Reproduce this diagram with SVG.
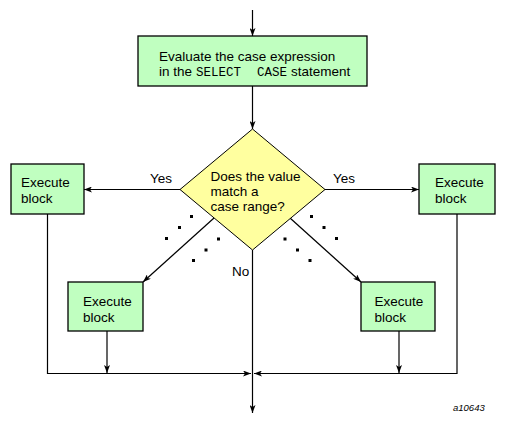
<svg xmlns="http://www.w3.org/2000/svg" width="505" height="424" viewBox="0 0 505 424">
<defs>
<marker id="arr" viewBox="0 0 8 6" refX="8" refY="3" markerWidth="8" markerHeight="6" markerUnits="userSpaceOnUse" orient="auto">
<path d="M0,0 L8,3 L0,6 L2,3 z" fill="#000"/>
</marker>
<style>
.box{fill:#c0ffc0;stroke:#000;stroke-width:1.3}
.dia{fill:#ffff9f;stroke:#000;stroke-width:1}
.t{font-family:"Liberation Sans",Arial,sans-serif;font-size:13.5px;fill:#000}
.m{font-family:"Liberation Mono","Courier New",monospace;font-size:12.5px;fill:#000}
.ln{fill:none;stroke:#000;stroke-width:1.2}
.ar{marker-end:url(#arr)}
.dot{fill:#000}
</style>
</defs>
<rect width="505" height="424" fill="#fff"/>
<g id="connectors">
<path class="ln ar" d="M252.5,10 V36"/>
<path class="ln ar" d="M252.5,86 V129"/>
<path class="ln ar" d="M180,189.5 H84"/>
<path class="ln ar" d="M325,189.5 H419"/>
<path class="ln ar" d="M214,218 L143,282"/>
<path class="ln ar" d="M290,218 L361,282"/>
<path class="ln ar" d="M252.5,250 V413"/>
<path class="ln ar" d="M47.5,214 V373.5 H251"/>
<path class="ln ar" d="M457,214 V373.5 H254"/>
<path class="ln ar" d="M107,331 V373"/>
<path class="ln ar" d="M399,331 V373"/>
<g id="dots">
<rect class="dot" x="190" y="215" width="3" height="3"/>
<rect class="dot" x="178" y="226" width="3" height="3"/>
<rect class="dot" x="165" y="237" width="3" height="3"/>
<rect class="dot" x="217" y="237.5" width="3" height="3"/>
<rect class="dot" x="204.5" y="248.5" width="3" height="3"/>
<rect class="dot" x="192" y="259" width="3" height="3"/>
<rect class="dot" x="310" y="215" width="3" height="3"/>
<rect class="dot" x="322.5" y="226" width="3" height="3"/>
<rect class="dot" x="335" y="237" width="3" height="3"/>
<rect class="dot" x="283.5" y="237.5" width="3" height="3"/>
<rect class="dot" x="296" y="248.5" width="3" height="3"/>
<rect class="dot" x="308.5" y="259" width="3" height="3"/>
</g>
<text class="t" x="150" y="183">Yes</text>
<text class="t" x="333" y="183">Yes</text>
<text class="t" x="232" y="275.5">No</text>
</g>
<g id="evaluate">
<rect class="box" x="138" y="36" width="229" height="50"/>
<text class="t" x="159" y="61">Evaluate the case expression</text>
<text class="t" x="159" y="76">in the</text>
<text class="m" x="196" y="76">SELECT</text>
<text class="m" x="257" y="76">CASE</text>
<text class="t" x="291" y="76">statement</text>
</g>
<g id="decision">
<polygon class="dia" points="252.5,129 325,189.5 252.5,250 180,189.5"/>
<text class="t" x="210.5" y="181">Does the value</text>
<text class="t" x="210.5" y="196">match a</text>
<text class="t" x="210.5" y="211">case range?</text>
</g>
<g id="exec-left">
<rect class="box" x="11" y="164" width="73" height="50"/>
<text class="t" x="21" y="187">Execute</text>
<text class="t" x="21" y="203">block</text>
</g>
<g id="exec-right">
<rect class="box" x="419" y="164" width="76" height="50"/>
<text class="t" x="435" y="187">Execute</text>
<text class="t" x="435" y="203">block</text>
</g>
<g id="exec-lower-left">
<rect class="box" x="68" y="282" width="75" height="49"/>
<text class="t" x="83" y="306">Execute</text>
<text class="t" x="83" y="322">block</text>
</g>
<g id="exec-lower-right">
<rect class="box" x="361" y="282" width="74" height="49"/>
<text class="t" x="374.5" y="306">Execute</text>
<text class="t" x="374.5" y="322">block</text>
</g>
<text x="453" y="411" font-family="Liberation Sans,Arial,sans-serif" font-style="italic" font-size="9.5" fill="#000">a10643</text>
</svg>
